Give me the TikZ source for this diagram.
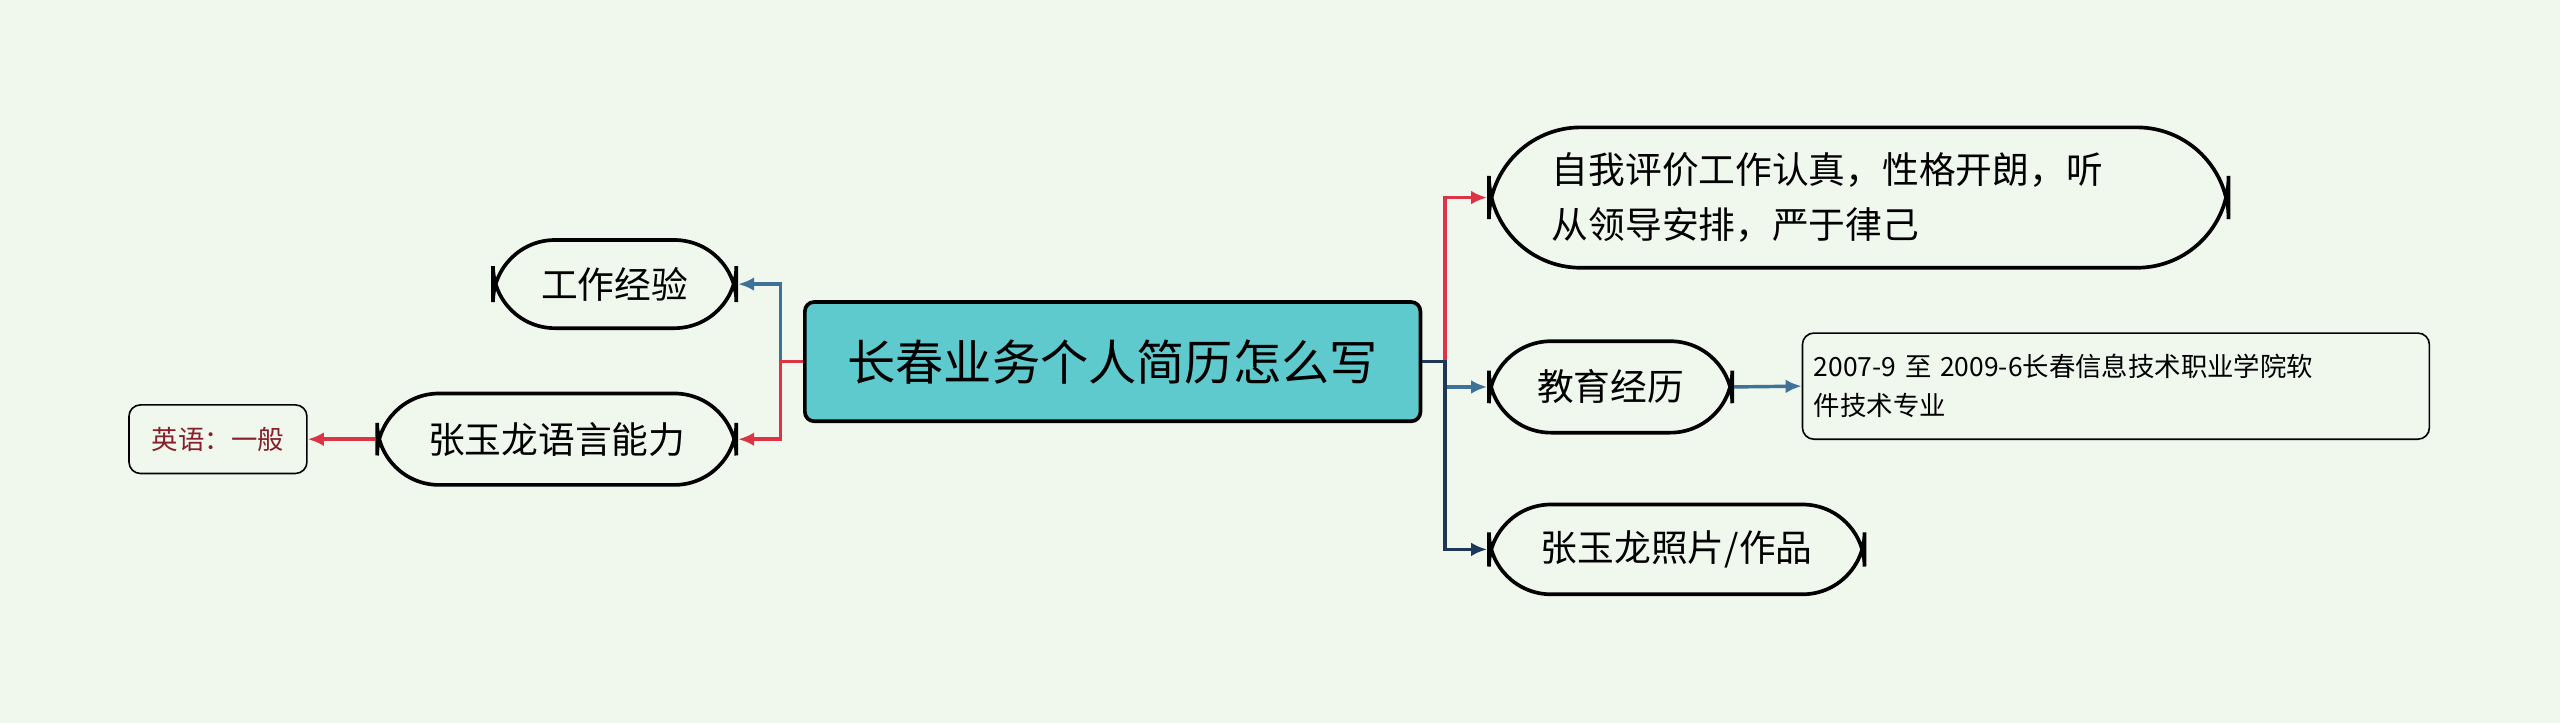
\documentclass[tikz,border=0pt]{standalone}
\usepackage{fontspec}
\setmainfont{Noto Sans CJK SC}
\usetikzlibrary{arrows.meta}
\definecolor{bg}{HTML}{F0F8EE}
\definecolor{hub}{HTML}{5FCACE}
\definecolor{lred}{HTML}{DD3445}
\definecolor{lblue}{HTML}{3F7298}
\definecolor{lnavy}{HTML}{1D3659}
\tikzset{
  topic/.style={draw=black,line width=1.6pt,rounded corners=27,fill=bg,inner sep=0pt},
  leaf/.style={draw=black,line width=0.7pt,rounded corners=5,fill=bg,inner sep=0pt},
  link/.style={line width=1.5pt,-{Latex[length=7pt,width=6pt]}}
}
\begin{document}
\begin{tikzpicture}[x=0.025cm,y=-0.025cm]
        \fill[bg] (0,0) rectangle (1568,443);
        \node[draw=black,line width=1.6pt,rounded corners=4,fill=hub,minimum width=377*0.025cm,minimum height=73*0.025cm,font=\fontsize{21}{25}\selectfont] (hub) at (681.5,221.5) {长春业务个人简历怎么写};
        \node[topic,minimum width=149*0.025cm,minimum height=54*0.025cm,font=\fontsize{16}{20}\selectfont] (work) at (376.5,174) {工作经验};
        \node[topic,minimum width=220*0.025cm,minimum height=56*0.025cm,font=\fontsize{16}{20}\selectfont] (lang) at (341,269) {张玉龙语言能力};
        \node[leaf,minimum width=109*0.025cm,minimum height=42*0.025cm,text=lred!60!black,font=\fontsize{11.5}{14}\selectfont] (eng) at (133.5,269) {英语：一般};
        \node[topic,rounded corners=40,minimum width=453*0.025cm,minimum height=86*0.025cm,font=\fontsize{16}{24}\selectfont,align=left,text width=430*0.025cm] (self) at (1138.5,121) {\hspace*{1.2em}自我评价工作认真，性格开朗，听\\\hspace*{1.2em}从领导安排，严于律己};
        \node[topic,minimum width=149*0.025cm,minimum height=56*0.025cm,font=\fontsize{16}{20}\selectfont] (edu) at (986.5,237) {教育经历};
        \node[leaf,minimum width=384*0.025cm,minimum height=65*0.025cm,font=\fontsize{11.5}{17}\selectfont,align=left,text width=370*0.025cm] (school) at (1296,236.5) {2007-9 至 2009-6长春信息技术职业学院软\\件技术专业};
        \node[topic,minimum width=230*0.025cm,minimum height=55*0.025cm,font=\fontsize{16}{20}\selectfont] (photo) at (1027,336.5) {张玉龙照片/作品};
        % left side
        \draw[link,lblue] (hub.west) -- (478,221.5) |- (work.east);
        \draw[link,lred] (hub.west) -- (478,221.5) |- (lang.east);
        \draw[link,lred] (lang.west) -- (eng.east);
        % right side
        \draw[link,lred] (hub.east) -- (885,221.5) |- (self.west);
        \draw[link,lblue] (hub.east) -- (885,221.5) |- (edu.west);
        \draw[link,lnavy] (hub.east) -- (885,221.5) |- (photo.west);
        \draw[link,lblue] (edu.east) -- (school.west);
\end{tikzpicture}
\end{document}
